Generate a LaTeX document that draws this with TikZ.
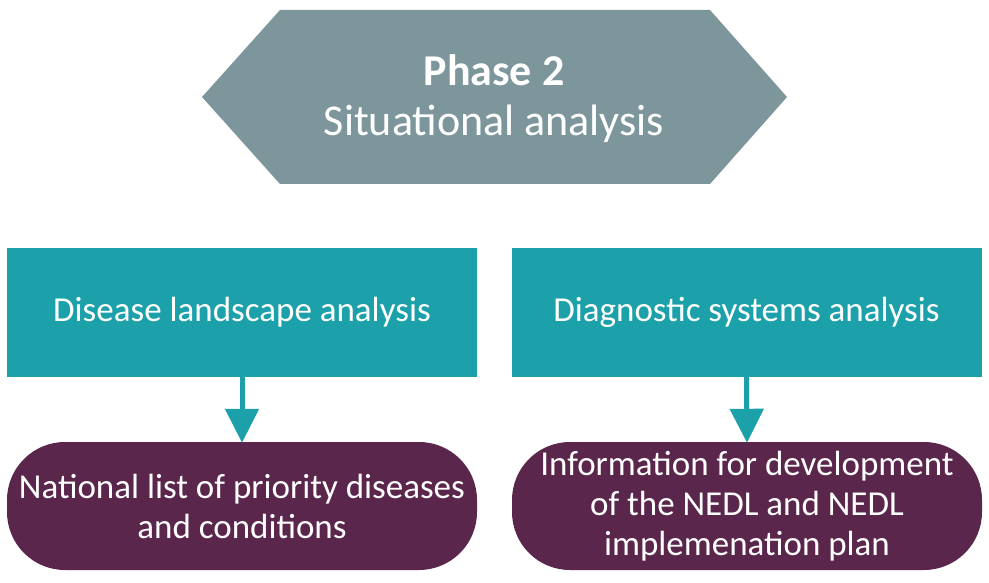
\documentclass[tikz,border=0pt]{standalone}
\usepackage{fontspec}
\setmainfont{Carlito}
\usetikzlibrary{arrows.meta}
\definecolor{hexgray}{HTML}{7C969C}
\definecolor{tealbox}{HTML}{1CA1AB}
\definecolor{plum}{HTML}{5B264B}
\tikzset{
  anabox/.style={rectangle, fill=tealbox, text=white, minimum width=470pt, minimum height=129pt, inner sep=0pt, font=\fontsize{35}{42}\selectfont},
  outbox/.style={rectangle, rounded corners=58pt, fill=plum, text=white, minimum width=470pt, minimum height=128pt, inner sep=0pt, align=center, font=\fontsize{35}{40}\selectfont},
  flow/.style={draw=tealbox, line width=5pt, -{Triangle[width=33pt,length=34pt]}, shorten >=-1pt}
}
\begin{document}
\begin{tikzpicture}[x=1pt,y=-1pt]
\useasboundingbox (0,0) rectangle (989,583);
% hexagon
\coordinate (hl) at (202,97);
\coordinate (htl) at (280,10);
\coordinate (htr) at (710,10);
\coordinate (hr) at (787,97);
\coordinate (hbr) at (710,184);
\coordinate (hbl) at (280,184);
\fill[hexgray] (hl) -- (htl) -- (htr) -- (hr) -- (hbr) -- (hbl) -- cycle;
\node[text=white, font=\fontsize{44}{50}\selectfont\bfseries] (ph) at (494,70) {Phase 2};
\node[text=white, font=\fontsize{44}{50}\selectfont] (sa) at (494,124) {Situational analysis};
% analysis boxes
\node[anabox] (dla) at (242,312.5) {Disease landscape analysis};
\node[anabox] (dsa) at (746.5,312.5) {Diagnostic systems analysis};
% outputs
\node[outbox] (nl) at (242,506) {National list of priority diseases\\and conditions};
\node[outbox] (info) at (747,506) {Information for development\\of the NEDL and NEDL\\implemenation plan};
% connectors
\draw[flow] (dla.south) -- (nl.north);
\draw[flow] (dsa.south) -- (info.north);
\end{tikzpicture}
\end{document}
